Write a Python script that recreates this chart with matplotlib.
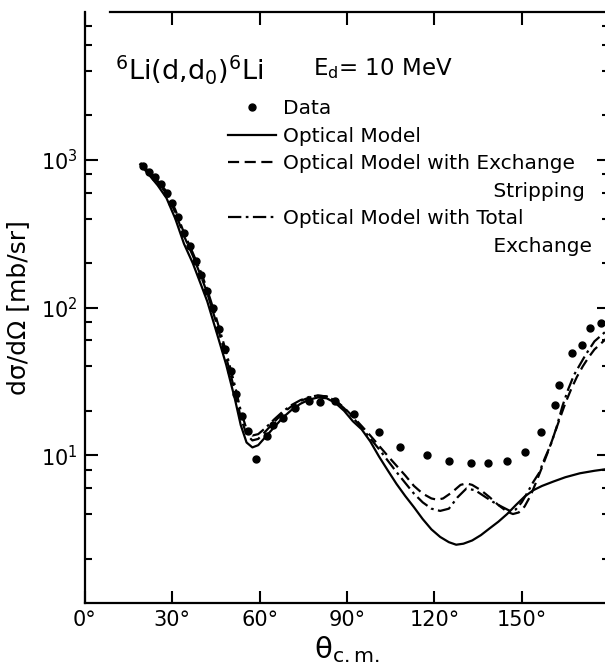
import numpy as np
import matplotlib.pyplot as plt
from matplotlib.lines import Line2D
from matplotlib.ticker import LogLocator, FixedLocator, FixedFormatter, NullFormatter

data_theta = [20, 22, 24, 26, 28, 30, 32, 34, 36, 38, 40, 42, 44, 46, 48, 50, 52, 54, 56,
              58.8, 62.5, 64.6, 68, 72.2, 77, 80.8, 85.9, 92.4, 101, 108.3, 117.6, 125,
              132.6, 138.5, 145, 151.2, 156.7, 161.5, 162.9, 167.4, 170.8, 173.5, 177.3]
data_sigma = [910, 830, 760, 680, 600, 510, 410, 320, 260, 205, 165, 130, 100, 72, 52, 37, 26, 18.5, 14.5,
              9.5, 13.4, 16, 17.8, 21, 23.2, 22.8, 23.2, 18.9, 14.3, 11.3, 10.0, 9.1,
              8.8, 8.8, 9.1, 10.6, 14.3, 21.8, 30, 49, 56, 73, 79]

# optical model
om_theta = [19, 22, 25, 28, 31, 34, 37, 40, 42, 45, 48.5, 51.5, 53.5, 55.5, 57.5, 59.5, 62, 65, 68,
            71, 74, 77, 80, 83, 86, 89, 92, 95, 98, 101, 104, 107, 110, 113, 116, 119, 122, 125,
            127.5, 130, 133, 136, 139, 142, 145, 148, 151, 154, 157, 161, 165, 170, 175, 180]
om_sigma = [930, 790, 670, 550, 400, 270, 200, 140, 110, 70, 41, 24, 16, 12.2, 11.3, 11.7, 13.3, 15.5, 18,
            20.3, 22.3, 23.8, 24.6, 24.3, 22.6, 20, 17, 15, 12.4, 9.8, 7.9, 6.4, 5.3, 4.45, 3.7, 3.15, 2.8, 2.58,
            2.48, 2.52, 2.65, 2.88, 3.2, 3.55, 4.0, 4.6, 5.25, 5.8, 6.2, 6.65, 7.1, 7.55, 7.85, 8.1]

# optical model with exchange stripping
ex_theta = [19, 22, 25, 28, 31, 34, 37, 40, 42, 45, 48.5, 51.5, 53.5, 55.5, 57.5, 59.5, 62, 65, 68,
            71, 74, 77, 80, 83, 86, 89, 92, 95, 98, 101, 104, 107, 110, 113, 116, 119, 121, 123,
            126, 129, 131, 133, 136, 139, 142, 145, 147, 149, 151, 153, 155, 157, 159, 161, 163,
            165, 167, 169, 171, 173, 175, 180]
ex_sigma = [950, 820, 700, 590, 440, 305, 225, 160, 125, 80, 46, 27, 18, 13.8, 12.6, 12.9, 14.5, 16.8, 19.3,
            21.5, 23.3, 24.6, 25.3, 25.0, 23.5, 21, 18.3, 15.8, 13.6, 11.6, 9.9, 8.5, 7.3, 6.2, 5.5, 5.1, 5.0, 5.1,
            5.6, 6.3, 6.45, 6.3, 5.8, 5.2, 4.6, 4.15, 4.0, 4.1, 4.5, 5.3, 6.6, 8.3, 10.5, 13.5, 17.5,
            22.5, 28, 34, 40, 46, 52, 64]

# optical model with total exchange
tot_theta = [19, 22, 25, 28, 31, 34, 37, 40, 42, 45, 48.5, 51.5, 53.5, 55.5, 57.5, 59.5, 62, 65, 68,
             71, 74, 77, 80, 83, 86, 89, 92, 95, 98, 101, 104, 107, 110, 113, 116, 119, 122, 125,
             128, 131, 134, 137, 140, 143, 146, 148, 150, 152, 154, 156, 158, 160, 162, 164, 166,
             168, 170, 172, 175, 180]
tot_sigma = [950, 830, 720, 610, 460, 320, 235, 170, 132, 86, 50, 29.5, 20, 15, 13.6, 13.9, 15.3, 17.5, 19.8,
             21.9, 23.6, 24.8, 25.4, 25.0, 23.4, 20.8, 18.0, 15.4, 13.0, 11.0, 9.2, 7.7, 6.5, 5.5, 4.8, 4.35, 4.2, 4.35,
             5.2, 5.95, 5.8, 5.3, 4.85, 4.5, 4.2, 4.3, 4.8, 5.6, 6.6, 7.6, 9.6, 11.8, 15.5, 21.5, 28,
             35, 41, 48, 59, 72]

xtick_vals = [0, 30, 60, 90, 120, 150]
xtick_labels = ['0°', '30°', '60°', '90°', '120°', '150°']

legend_labels = ['Data', 'Optical Model', 'Optical Model with Exchange',
                 '                                 Stripping',
                 'Optical Model with Total',
                 '                                 Exchange']

fig = plt.figure(figsize=(6.05, 6.7), dpi=100)
ax = fig.add_axes([85 / 605, 67 / 670, 524 / 605, 591 / 670])

lw = 1.6
# data under the curves so the forward points merge with the lines
l_dat, = ax.plot(data_theta, data_sigma, 'o', color='k', ms=5, mec='k', zorder=1)
l_om, = ax.plot(om_theta, om_sigma, '-', color='k', lw=lw, zorder=2)
l_ex, = ax.plot(ex_theta, ex_sigma, color='k', lw=lw, dashes=(5, 2.5), zorder=2)
l_tot, = ax.plot(tot_theta, tot_sigma, color='k', lw=lw, dashes=(6, 2, 1.2, 2), zorder=2)

ax.set_yscale('log')
ax.set_xlim(0, 180)
ax.set_ylim(1, 1e4)

ax.xaxis.set_major_locator(FixedLocator(xtick_vals))
ax.xaxis.set_major_formatter(FixedFormatter(xtick_labels))
ax.yaxis.set_major_locator(FixedLocator([10, 100, 1000]))
ax.yaxis.set_minor_locator(LogLocator(base=10, subs=(2, 4, 6, 8)))
ax.yaxis.set_minor_formatter(NullFormatter())

ax.tick_params(which='both', direction='in', top=True, right=True, width=1.5,
               labelsize=15, pad=5)
ax.tick_params(which='major', length=9)
ax.tick_params(which='minor', length=5)
for s in ax.spines.values():
    s.set_linewidth(1.6)
ax.spines['top'].set_bounds(8.5, 180)

ax.set_ylabel('dσ/dΩ [mb/sr]', fontsize=18)
ax.yaxis.set_label_coords(-0.105, 0.5)
ax.set_xlabel(r'$\mathregular{\theta_{c.m.}}$', fontsize=21)
ax.xaxis.set_label_coords(0.5, -0.052)

ax.text(0.057, 0.902, r'$^{6}$Li(d,d$_{\mathregular{0}}$)$^{6}$Li', transform=ax.transAxes,
        fontsize=19.5, va='center', ha='left')
ax.text(0.435, 0.905, r'E$_{\mathregular{d}}$= 10 MeV', transform=ax.transAxes,
        fontsize=16.5, va='center', ha='left')

blank = Line2D([], [], linestyle='none')
leg = ax.legend([l_dat, l_om, l_ex, blank, l_tot, blank], legend_labels,
                loc='upper left', bbox_to_anchor=(0.273, 0.852), frameon=False,
                fontsize=14.5, handlelength=2.4, handletextpad=0.35, labelspacing=0.42,
                borderpad=0, borderaxespad=0, numpoints=1)

fig.savefig('out.png', dpi=100)
